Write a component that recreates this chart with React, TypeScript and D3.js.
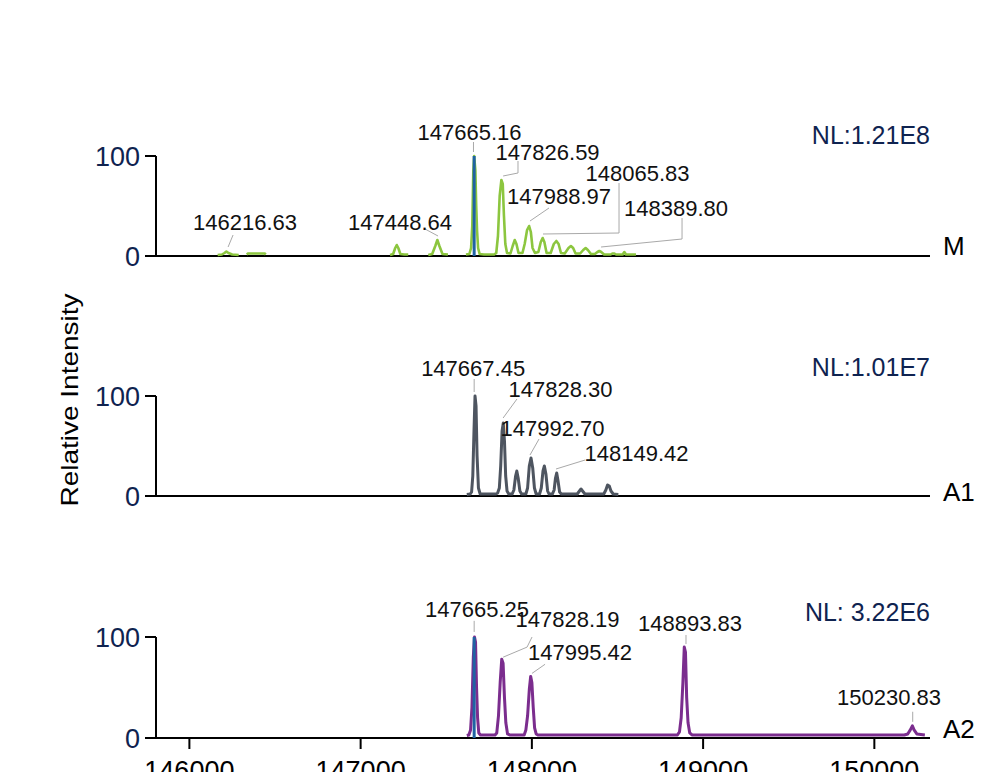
import React from "react";
import * as d3 from "d3";

const W = 983;
const H = 772;
const FONT = "'Liberation Sans', Arial, Helvetica, sans-serif";

// ---------- data ----------
const xTicks = [146000, 147000, 148000, 149000, 150000];
const yTicks = [0, 100];

type Pt = [number, number | null];

// Sample M (green); null marks a gap in the profile
const traceM: Pt[] = [
  [146165, 1], [146190, 1.5], [146205, 3], [146216, 4.5], [146228, 3], [146250, 1.5], [146288, 1], [146300, null],
  [146335, 1.5], [146342, 2.5], [146440, 2.5], [146446, 1.5], [146460, null],
  [147172, 1], [147190, 2], [147202, 8], [147211, 11], [147220, 8], [147232, 2], [147255, 1.5], [147278, 1.5], [147300, null],
  [147395, 1], [147418, 2], [147436, 10], [147448, 16], [147460, 10], [147478, 2], [147510, 1.5], [147530, null],
  [147615, 1.5], [147635, 2], [147645, 8], [147652, 30], [147658, 85], [147663, 100], [147670, 86], [147675, 50],
  [147680, 25], [147686, 8], [147695, 2], [147720, 1.5], [147780, 1.5], [147792, 3], [147802, 20], [147812, 60],
  [147822, 76], [147830, 72], [147837, 40], [147845, 12], [147855, 3], [147875, 2.5], [147888, 10], [147900, 16],
  [147910, 12], [147922, 3], [147945, 3], [147958, 12], [147972, 26], [147984, 30], [147994, 24], [148004, 8],
  [148018, 3], [148038, 4], [148052, 14], [148063, 18], [148073, 14], [148086, 3], [148110, 3], [148128, 12],
  [148143, 15], [148156, 12], [148170, 3], [148192, 2.5], [148214, 8], [148228, 10], [148241, 8], [148255, 2.5],
  [148282, 2.5], [148300, 6], [148314, 8], [148327, 6], [148345, 2], [148368, 2], [148383, 4], [148394, 5],
  [148405, 4], [148422, 1.5], [148460, 1.5], [148470, 2.5], [148482, 2.5], [148492, 1.5], [148530, 1.5],
  [148540, 4], [148550, 1.5], [148608, 1.5],
];

// Sample A1 (grey)
const traceA1: Pt[] = [
  [147620, 1.5], [147640, 2], [147648, 4], [147655, 20], [147662, 65], [147668, 100], [147674, 90], [147680, 40],
  [147688, 8], [147698, 2], [147790, 2],
  [147800, 3], [147810, 8], [147818, 30], [147826, 65], [147833, 73], [147840, 55], [147847, 20], [147855, 5], [147865, 2],
  [147885, 2], [147895, 6], [147905, 20], [147912, 25], [147920, 18], [147930, 5], [147940, 2],
  [147965, 2], [147975, 8], [147985, 30], [147995, 38], [148005, 28], [148015, 8], [148025, 2],
  [148045, 2], [148055, 8], [148065, 25], [148073, 30], [148082, 22], [148092, 5], [148100, 2],
  [148120, 2], [148130, 6], [148138, 18], [148145, 23], [148152, 16], [148162, 4], [148172, 2],
  [148265, 2], [148278, 5], [148287, 7], [148296, 5], [148310, 2],
  [148420, 2], [148432, 6], [148442, 11], [148452, 10], [148462, 5], [148475, 2], [148505, 1.5],
];

// Sample A2 (purple)
const traceA2: Pt[] = [
  [147620, 2.5], [147632, 3], [147642, 8], [147650, 30], [147658, 80], [147665, 100], [147671, 95], [147677, 50],
  [147683, 20], [147690, 5], [147700, 3], [147785, 3],
  [147795, 5], [147805, 22], [147815, 55], [147824, 78], [147832, 74], [147840, 40], [147848, 15], [147858, 4], [147870, 3],
  [147955, 3], [147965, 8], [147975, 22], [147985, 48], [147993, 61], [148000, 55], [148008, 30], [148016, 10], [148025, 4], [148035, 3],
  [148850, 3], [148862, 6], [148872, 20], [148882, 55], [148890, 90], [148897, 85], [148904, 40], [148912, 15], [148922, 5], [148935, 3],
  [150175, 3], [150195, 4], [150210, 8], [150222, 12], [150232, 8], [150248, 4], [150295, 3],
];

// blue reference stick (mass, intensity) for M and A2
const stickM: [number, number] = [147663, 100];
const stickA2: [number, number] = [147663, 100];

type Ann = { text: string; m: number; i: number; leader: [number, number][] };

const annM: Ann[] = [
  { text: "146216.63", m: 146325, i: 26, leader: [[146255, 21], [146226, 9]] },
  { text: "147448.64", m: 147230, i: 26, leader: [[147376, 27], [147452, 20]] },
  { text: "147665.16", m: 147636, i: 116, leader: [[147659, 114], [147659, 104]] },
  { text: "147826.59", m: 148092, i: 96, leader: [[147919, 95], [147919, 83], [147832, 80]] },
  { text: "148065.83", m: 148617, i: 75, leader: [[148509, 73], [148509, 23], [148065, 22]] },
  { text: "147988.97", m: 148159, i: 52, leader: [[148100, 48], [147989, 35]] },
  { text: "148389.80", m: 148842, i: 40, leader: [[148877, 38], [148877, 17], [148404, 9]] },
];

const annA1: Ann[] = [
  { text: "147667.45", m: 147657, i: 120, leader: [[147663, 117], [147663, 104]] },
  { text: "147828.30", m: 148167, i: 99, leader: [[147913, 97], [147832, 78]] },
  { text: "147992.70", m: 148121, i: 60, leader: [[148042, 57], [147989, 41]] },
  { text: "148149.42", m: 148611, i: 35, leader: [[148311, 36], [148141, 27]] },
];

const annA2: Ann[] = [
  { text: "147665.25", m: 147680, i: 120, leader: [[147663, 116], [147663, 105]] },
  { text: "147828.19", m: 148208, i: 110, leader: [[148001, 100], [147972, 90], [147832, 80]] },
  { text: "147995.42", m: 148281, i: 77, leader: [[148077, 73], [148001, 64]] },
  { text: "148893.83", m: 148924, i: 106, leader: [[148900, 102], [148900, 93]] },
  { text: "150230.83", m: 150086, i: 33, leader: [[150224, 26], [150224, 16]] },
];

const nlLabels = ["NL:1.21E8", "NL:1.01E7", "NL: 3.22E6"];
const nlLevels = [112, 120, 116];
const panelNames = ["M", "A1", "A2"];
const panelNameLevels = [1, -5, 0];

// ---------- layout ----------
const X0 = 156;
const X1 = 930;
const panelLayout = [
  { y0: 256, y100: 156, color: "#8cc63f", width: 2.6 },
  { y0: 496, y100: 396, color: "#4e5560", width: 3 },
  { y0: 738, y100: 637, color: "#7b2d8e", width: 3 },
];
const NAVY = "#0f2350";
const LEADER = "#a9a9a9";
const BLUE = "#1f63a3";

const xScale = d3.scaleLinear().domain([145805, 150325]).range([X0, X1]);

const traces = [traceM, traceA1, traceA2];
const sticks: ([number, number] | null)[] = [stickM, null, stickA2];
const anns = [annM, annA1, annA2];

function Panel({ idx }: { idx: number }) {
  const L = panelLayout[idx];
  const y = d3.scaleLinear().domain([0, 100]).range([L.y0, L.y100]);
  const line = d3
    .line<Pt>()
    .defined((d) => d[1] !== null)
    .x((d) => xScale(d[0]))
    .y((d) => y(d[1] as number));
  const leaderLine = d3
    .line<[number, number]>()
    .x((d) => xScale(d[0]))
    .y((d) => y(d[1]));
  const stick = sticks[idx];
  return (
    <g>
      {/* y axis */}
      <line x1={X0} x2={X0} y1={y(100)} y2={y(0)} stroke="#000" strokeWidth={2} />
      {yTicks.map((t) => (
        <g key={t}>
          <line x1={X0 - 11} x2={X0} y1={y(t)} y2={y(t)} stroke="#000" strokeWidth={2} />
          <text x={X0 - 16} y={y(t) + 10} textAnchor="end" fontSize={27} fill={NAVY} fontFamily={FONT}>
            {t}
          </text>
        </g>
      ))}
      {/* baseline */}
      <line x1={X0 - 1} x2={X1} y1={y(0)} y2={y(0)} stroke="#000" strokeWidth={2} />
      {/* trace */}
      <path d={line(traces[idx]) || ""} fill="none" stroke={L.color} strokeWidth={L.width} strokeLinejoin="round" />
      {stick && (
        <line
          x1={xScale(stick[0])}
          x2={xScale(stick[0])}
          y1={y(0)}
          y2={y(stick[1])}
          stroke={BLUE}
          strokeWidth={3}
        />
      )}
      {/* annotations */}
      {anns[idx].map((a) => (
        <g key={a.text}>
          <path d={leaderLine(a.leader) || ""} fill="none" stroke={LEADER} strokeWidth={1} />
          <text
            x={xScale(a.m)}
            y={y(a.i)}
            textAnchor="middle"
            fontSize={22}
            fill="#111"
            fontFamily={FONT}
          >
            {a.text}
          </text>
        </g>
      ))}
      <text x={X1} y={y(nlLevels[idx])} textAnchor="end" fontSize={25} fill={NAVY} fontFamily={FONT}>
        {nlLabels[idx]}
      </text>
      <text x={X1 + 13} y={y(panelNameLevels[idx])} fontSize={26} fill="#000" fontFamily={FONT}>
        {panelNames[idx]}
      </text>
    </g>
  );
}

export default function App() {
  const bottom = panelLayout[2].y0;
  return (
    <svg
      width={W}
      height={H}
      viewBox={`0 0 ${W} ${H}`}
      style={{ position: "absolute", left: 0, top: 0, background: "#fff" }}
    >
      <rect x={0} y={0} width={W} height={H} fill="#fff" />
      {[0, 1, 2].map((i) => (
        <Panel key={i} idx={i} />
      ))}
      {/* x axis ticks */}
      {xTicks.map((t) => (
        <g key={t}>
          <line x1={xScale(t)} x2={xScale(t)} y1={bottom} y2={bottom + 11} stroke="#000" strokeWidth={2} />
          <text x={xScale(t)} y={bottom + 42} textAnchor="middle" fontSize={27} fill="#000" fontFamily={FONT}>
            {t}
          </text>
        </g>
      ))}
      <text
        transform="translate(78,400) scale(0.85,1) rotate(-90)"
        textAnchor="middle"
        fontSize={28}
        fill="#000"
        fontFamily={FONT}
      >
        Relative Intensity
      </text>
    </svg>
  );
}
